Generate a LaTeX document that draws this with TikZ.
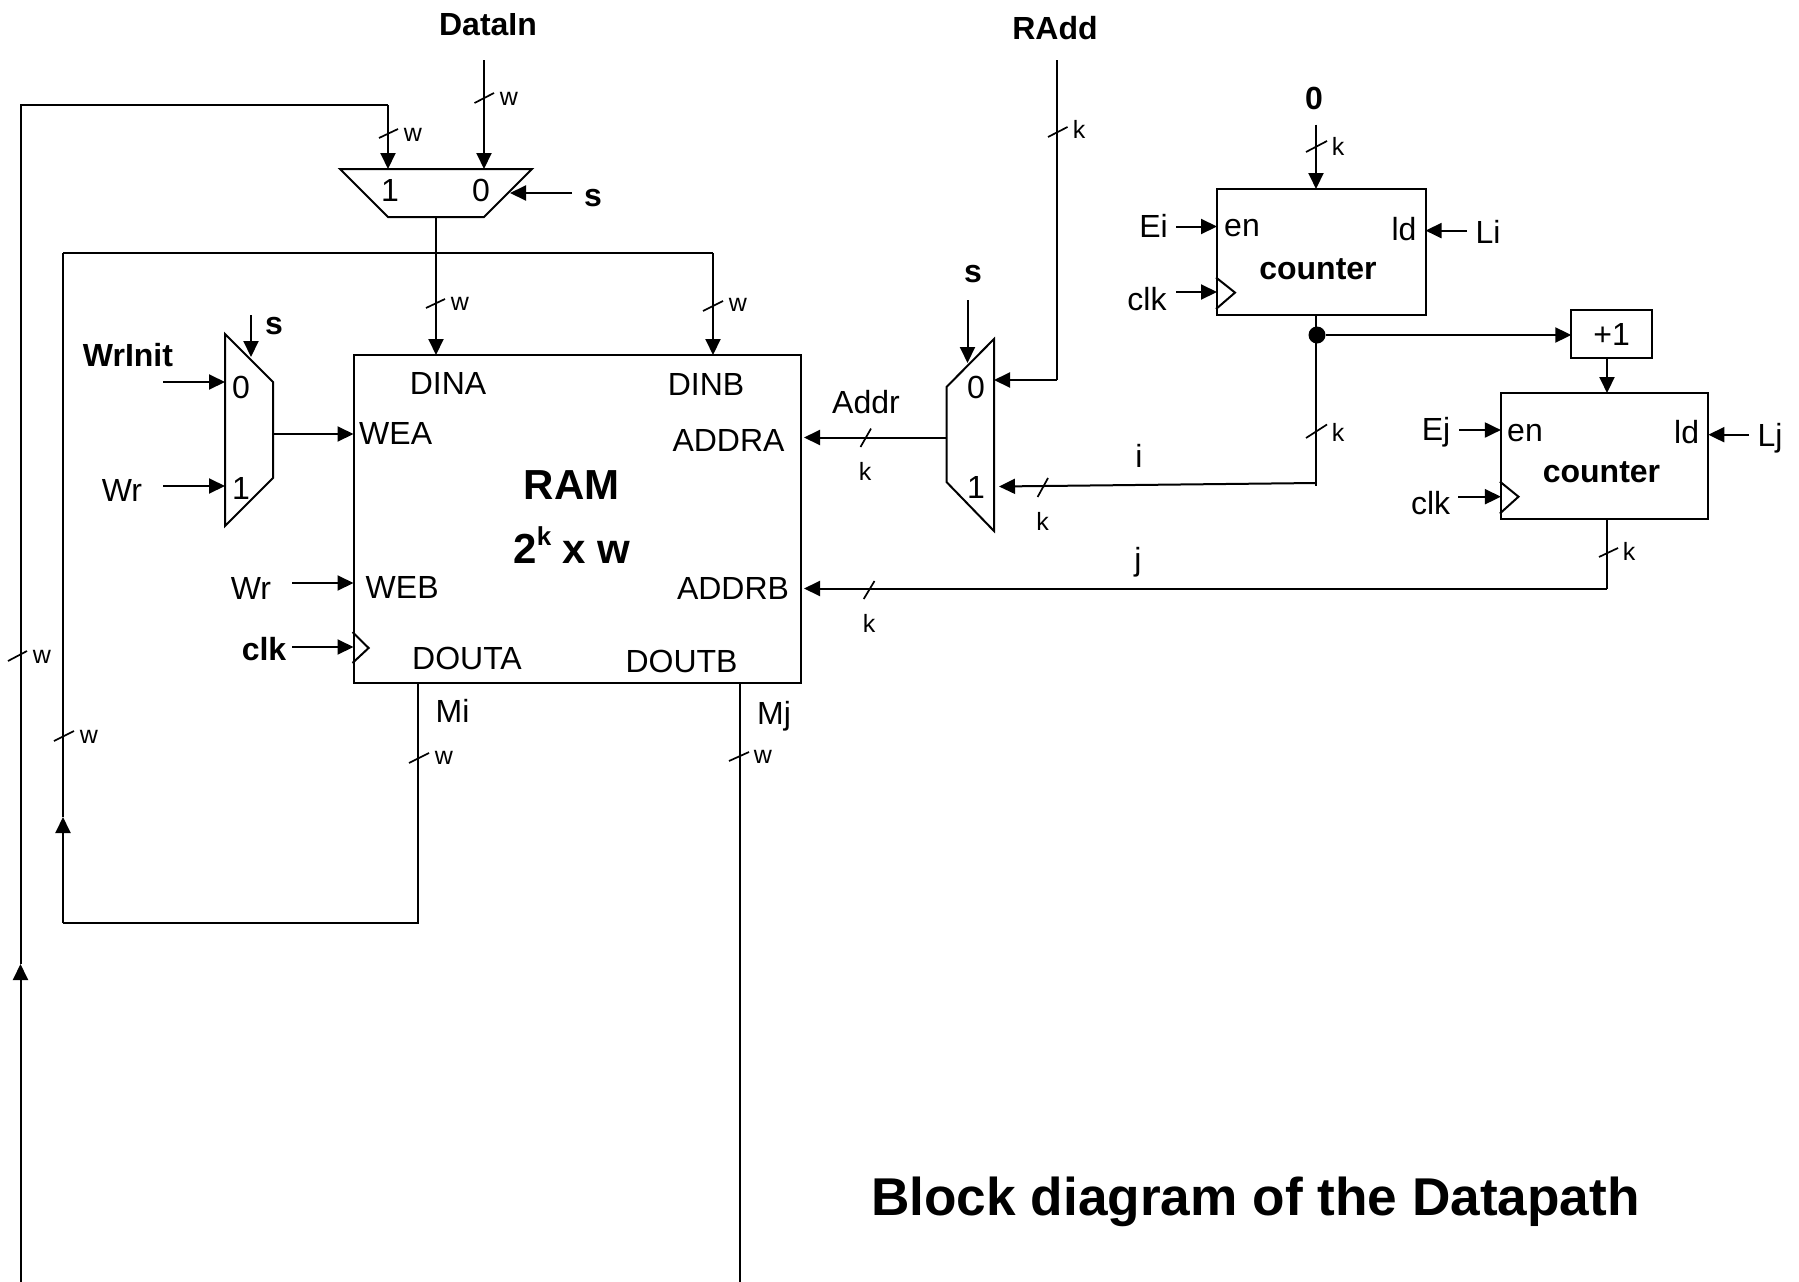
\documentclass[tikz,border=0pt]{standalone}
\usepackage{fontspec}
\setmainfont{Liberation Sans}
\usetikzlibrary{arrows.meta}
\tikzset{
  wire/.style={line width=2pt,line join=miter},
  arr/.style={wire,-{Triangle[length=16pt,width=15pt]}},
  tickmark/.style={line width=1.7pt},
  shapeline/.style={line width=2pt,fill=none},
  blockbox/.style={draw,line width=2pt,inner sep=0pt,minimum width=#1},
  lab/.style={inner sep=0pt,font=\fontsize{32}{36}\selectfont},
  blab/.style={inner sep=0pt,font=\fontsize{32}{36}\selectfont\bfseries},
  bus/.style={inner sep=0pt,font=\fontsize{25}{28}\selectfont},
  dotnode/.style={circle,fill=black,inner sep=0pt,minimum size=17pt}
}
\begin{document}
\begin{tikzpicture}[x=1pt,y=-1pt]
\useasboundingbox (0,0) rectangle (1799,1282);
% blocks
\node[blockbox=447.6pt,minimum height=328pt] (ram) at (577.3,519) {};
\node[blockbox=208.5pt,minimum height=126pt] (cnti) at (1321.3,252) {};
\node[blockbox=207.4pt,minimum height=126pt] (cntj) at (1604.6,456) {};
\node[blockbox=80.6pt,minimum height=48.6pt,font=\fontsize{32}{36}\selectfont] (inc) at (1611.6,334) {+1};
% clock triangles
\draw[shapeline] (ram.west |- 0,632) -- (368.6,648) -- (ram.west |- 0,663);
\draw[shapeline] (cnti.west |- 0,277.5) -- (1235,292.6) -- (cnti.west |- 0,309);
\draw[shapeline] (cntj.west |- 0,481.6) -- (1518.5,496.7) -- (cntj.west |- 0,513.5);
% multiplexers
\draw[shapeline] (340,169) coordinate (mtl) -- (532,169) coordinate (mtr) -- (484,217) -- (388,217) -- cycle;
\draw[shapeline] (225,334) -- (273,382) -- (273,478) -- (225,526) -- cycle;
\draw[shapeline] (994,339) -- (946.5,387) -- (946.5,482) -- (994,531) -- cycle;
% named ends
\coordinate (fb1) at (20.5,1282);
\coordinate (fb1t) at (20.5,964);
\coordinate (fb1a) at (20.5,105);
\coordinate (fb1b) at (388,105);
\coordinate (m1a) at (388,169);
\coordinate (dinS) at (484,60);
\coordinate (m1b) at (484,169);
\coordinate (m1o) at (436,217);
\coordinate (dina) at (436,355);
\coordinate (s1S) at (572,193);
\coordinate (s1E) at (510,193);
\coordinate (fbL) at (63,253);
\coordinate (fbR) at (713,253);
\coordinate (dinb) at (713,355);
\coordinate (miT) at (418.4,683);
\coordinate (miB) at (418.4,923);
\coordinate (miL) at (63,923);
\coordinate (miA) at (63,817);
\coordinate (mjT) at (740,683);
\coordinate (mjB) at (740,1282);
\coordinate (s2S) at (251,315);
\coordinate (s2E) at (251,357);
\coordinate (wi0S) at (163,382);
\coordinate (wi0E) at (225,382);
\coordinate (wr1S) at (163,486);
\coordinate (wr1E) at (225,486);
\coordinate (weaS) at (273,434);
\coordinate (weaE) at (353.5,434);
\coordinate (webS) at (292,583);
\coordinate (webE) at (353.5,583);
\coordinate (ckS) at (292,647);
\coordinate (ckE) at (353.5,647);
\coordinate (raS) at (1057,60);
\coordinate (raC) at (1057,380);
\coordinate (raE) at (994,380);
\coordinate (s3S) at (967.5,300);
\coordinate (s3E) at (967.5,363);
\coordinate (adS) at (946.5,437.5);
\coordinate (adE) at (804,437.5);
\coordinate (ziS) at (1316,124.5);
\coordinate (ziE) at (1316,189);
\coordinate (iB) at (1316,315);
\coordinate (iC) at (1316,486);
\coordinate (iD) at (1316,483);
\coordinate (iE) at (999,486.5);
\coordinate (eiS) at (1176,226.5);
\coordinate (eiE) at (1217,226.5);
\coordinate (liS) at (1467,230.6);
\coordinate (liE) at (1425.5,230.6);
\coordinate (ck2S) at (1176,292);
\coordinate (ck2E) at (1217,292);
\coordinate (incW) at (1571.3,335);
\coordinate (incS) at (1607,358);
\coordinate (incE) at (1607,393);
\coordinate (ejS) at (1459,430);
\coordinate (ejE) at (1500.9,430);
\coordinate (ljS) at (1749,434.7);
\coordinate (ljE) at (1708.3,434.7);
\coordinate (ck3S) at (1458,496.7);
\coordinate (ck3E) at (1500.9,496.7);
\coordinate (jT) at (1607,519);
\coordinate (jC) at (1607,588.5);
\coordinate (jE) at (804,588.5);
\node[dotnode] (dot) at (1317,335) {};
% connectors
\draw[arr] (fb1) -- (fb1t);
\draw[wire] (fb1t) -- (fb1a) -- (fb1b);
\draw[arr] (fb1b) -- (m1a);
\draw[arr] (dinS) -- (m1b);
\draw[arr] (m1o) -- (dina);
\draw[arr] (s1S) -- (s1E);
\draw[wire] (fbL) -- (fbR);
\draw[arr] (fbR) -- (dinb);
\draw[wire] (miT) -- (miB) -- (miL);
\draw[arr] (miL) -- (miA);
\draw[wire] (miA) -- (fbL);
\draw[wire] (mjT) -- (mjB);
\draw[arr] (s2S) -- (s2E);
\draw[arr] (wi0S) -- (wi0E);
\draw[arr] (wr1S) -- (wr1E);
\draw[arr] (weaS) -- (weaE);
\draw[arr] (webS) -- (webE);
\draw[arr] (ckS) -- (ckE);
\draw[wire] (raS) -- (raC);
\draw[arr] (raC) -- (raE);
\draw[arr] (s3S) -- (s3E);
\draw[arr] (adS) -- (adE);
\draw[arr] (ziS) -- (ziE);
\draw[wire] (iB) -- (iC);
\draw[arr] (iD) -- (iE);
\draw[arr] (dot) -- (incW);
\draw[arr] (eiS) -- (eiE);
\draw[arr] (liS) -- (liE);
\draw[arr] (ck2S) -- (ck2E);
\draw[arr] (incS) -- (incE);
\draw[arr] (ejS) -- (ejE);
\draw[arr] (ljS) -- (ljE);
\draw[arr] (ck3S) -- (ck3E);
\draw[wire] (jT) -- (jC);
\draw[arr] (jC) -- (jE);
% bus ticks
\draw[tickmark] (8,661) -- (27,651);
\draw[tickmark] (54,741) -- (74,731);
\draw[tickmark] (409,763) -- (429,753);
\draw[tickmark] (729,761) -- (749,752);
\draw[tickmark] (379,138) -- (398,129);
\draw[tickmark] (474.5,103) -- (494,93);
\draw[tickmark] (426,308) -- (445,299);
\draw[tickmark] (703,311) -- (723,301);
\draw[tickmark] (1048,137) -- (1067.5,127);
\draw[tickmark] (860.5,447) -- (871,428.6);
\draw[tickmark] (1037.6,497) -- (1048,478);
\draw[tickmark] (1306,438) -- (1327,424.5);
\draw[tickmark] (1306,152) -- (1327,141);
\draw[tickmark] (1599,557) -- (1618,548);
\draw[tickmark] (863.7,599) -- (874.5,581);
% bus labels
\node[bus] (bw1) at (42,657) {w};
\node[bus] (bw2) at (89,737) {w};
\node[bus] (bw3) at (444,758) {w};
\node[bus] (bw4) at (763,757) {w};
\node[bus] (bw5) at (413,135) {w};
\node[bus] (bw6) at (509,99) {w};
\node[bus] (bw7) at (460,304) {w};
\node[bus] (bw8) at (738,305) {w};
\node[bus] (bk1) at (1079,129) {k};
\node[bus] (bk2) at (865,471) {k};
\node[bus] (bk3) at (1042.7,521) {k};
\node[bus] (bk4) at (1338,432) {k};
\node[bus] (bk5) at (1338,146) {k};
\node[bus] (bk6) at (1629,551) {k};
\node[bus] (bk7) at (869,623) {k};
% text
\node[blab] (tdin) at (488,24.5) {DataIn};
\node[blab] (tradd) at (1055,28) {RAdd};
\node[blab] (tzero) at (1314,98) {0};
\node[blab] (ts1) at (593,198) {s};
\node[blab] (ts2) at (274,326.5) {s};
\node[blab] (ts3) at (973,274) {s};
\node[blab] (twri) at (128,355) {WrInit};
\node[blab] (tclk) at (264,649.5) {clk};
\node[blab] (tc1) at (1318,269) {counter};
\node[blab] (tc2) at (1601.5,472.6) {counter};
\node[lab] (t10) at (390,190) {1};
\node[lab] (t11) at (481,190) {0};
\node[lab] (t20) at (241,387) {0};
\node[lab] (t21) at (241,488) {1};
\node[lab] (t30) at (976,387) {0};
\node[lab] (t31) at (976,487) {1};
\node[lab] (twr1) at (122,490.5) {Wr};
\node[lab] (twr2) at (251,588) {Wr};
\node[lab,anchor=west] (twea) at (359,433) {WEA};
\node[lab,anchor=west] (tweb) at (365.5,587.5) {WEB};
\node[lab] (tdina) at (448,383) {DINA};
\node[lab] (tdinb) at (706,384) {DINB};
\node[lab] (tadra) at (728.5,440) {ADDRA};
\node[lab] (tadrb) at (733,588) {ADDRB};
\node[lab] (tdoa) at (467,658) {DOUTA};
\node[lab] (tdob) at (681.5,661) {DOUTB};
\node[lab] (tmi) at (452.6,711) {Mi};
\node[lab] (tmj) at (774,716.5) {Mj};
\node[lab] (taddr) at (866,402) {Addr};
\node[lab] (ti) at (1139,456) {i};
\node[lab] (tj) at (1138,562) {j};
\node[lab] (tei) at (1153.5,226) {Ei};
\node[lab] (tej) at (1436,432.5) {Ej};
\node[lab] (tli) at (1488,232) {Li};
\node[lab] (tlj) at (1770,438) {Lj};
\node[lab] (tck2) at (1147,299.5) {clk};
\node[lab] (tck3) at (1430.6,503.5) {clk};
\node[lab] (ten1) at (1242,228.5) {en};
\node[lab] (ten2) at (1525,432.6) {en};
\node[lab] (tld1) at (1404,229) {ld};
\node[lab] (tld2) at (1686.6,432) {ld};
\node[inner sep=0pt,font=\fontsize{42}{46}\selectfont\bfseries] (tram) at (571.5,485) {RAM};
\node[inner sep=0pt,font=\fontsize{42}{46}\selectfont\bfseries] (tsize) at (572,545) {2\raisebox{0.42em}{\fontsize{26}{28}\selectfont k} x w};
\node[inner sep=0pt,font=\fontsize{53.2}{60}\selectfont\bfseries] (ttitle) at (1255.5,1202) {Block diagram of the Datapath};
\end{tikzpicture}
\end{document}
